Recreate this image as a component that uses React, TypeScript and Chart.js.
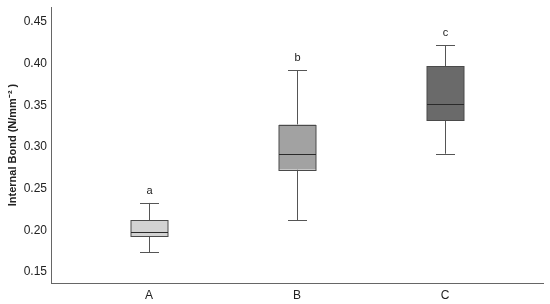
import React, { useEffect, useRef } from "react";
import { Chart, registerables } from "chart.js";

Chart.register(...registerables);

const categories = ["A", "B", "C"];
const whiskerLow = [0.174, 0.212, 0.292];
const q1 = [0.193, 0.273, 0.332];
const median = [0.198, 0.292, 0.352];
const q3 = [0.212, 0.327, 0.397];
const whiskerHigh = [0.233, 0.392, 0.422];
const letters = ["a", "b", "c"];
const fills = ["#d2d2d2", "#a2a2a2", "#6a6a6a"];
const yTicks = [0.15, 0.2, 0.25, 0.3, 0.35, 0.4, 0.45];

const boxPlugin = {
  id: "boxplot",
  afterDatasetsDraw(chart: any) {
    const ctx = chart.ctx;
    const xs = chart.scales.x;
    const ys = chart.scales.y;
    const halfBox = 18.5;
    const halfCap = 9.5;
    ctx.save();
    categories.forEach((_, i) => {
      const cx = Math.round(xs.getPixelForValue(i + 1)) + 0.5;
      const yLo = ys.getPixelForValue(whiskerLow[i]);
      const yQ1 = ys.getPixelForValue(q1[i]);
      const yMed = ys.getPixelForValue(median[i]);
      const yQ3 = ys.getPixelForValue(q3[i]);
      const yHi = ys.getPixelForValue(whiskerHigh[i]);
      ctx.strokeStyle = "#555";
      ctx.lineWidth = 1;
      ctx.beginPath();
      ctx.moveTo(cx, yHi);
      ctx.lineTo(cx, yQ3);
      ctx.moveTo(cx, yQ1);
      ctx.lineTo(cx, yLo);
      ctx.moveTo(cx - halfCap, Math.round(yHi) + 0.5);
      ctx.lineTo(cx + halfCap, Math.round(yHi) + 0.5);
      ctx.moveTo(cx - halfCap, Math.round(yLo) + 0.5);
      ctx.lineTo(cx + halfCap, Math.round(yLo) + 0.5);
      ctx.stroke();
      ctx.fillStyle = fills[i];
      ctx.fillRect(cx - halfBox, yQ3, halfBox * 2, yQ1 - yQ3);
      ctx.strokeStyle = "#4a4a4a";
      ctx.strokeRect(cx - halfBox, Math.round(yQ3) + 0.5, halfBox * 2, Math.round(yQ1 - yQ3));
      ctx.strokeStyle = "#2a2a2a";
      ctx.beginPath();
      ctx.moveTo(cx - halfBox, Math.round(yMed) + 0.5);
      ctx.lineTo(cx + halfBox, Math.round(yMed) + 0.5);
      ctx.stroke();
      ctx.fillStyle = "#222";
      ctx.font = "11px 'Liberation Sans', Arial, sans-serif";
      ctx.textAlign = "center";
      ctx.textBaseline = "middle";
      ctx.fillText(letters[i], cx, yHi - 12);
    });
    ctx.restore();
  },
};

export default function App() {
  const ref = useRef<HTMLCanvasElement>(null);
  useEffect(() => {
    if (!ref.current) return;
    const chart = new Chart(ref.current, {
      type: "scatter",
      data: {
        datasets: [
          {
            data: categories.map((_, i) => ({ x: i + 1, y: median[i] })),
            pointRadius: 0,
            showLine: false,
          },
        ],
      },
      options: {
        animation: false,
        responsive: false,
        maintainAspectRatio: false,
        events: [],
        layout: { padding: { left: 0, right: 7, top: 7, bottom: 0 } },
        plugins: { legend: { display: false }, tooltip: { enabled: false } },
        scales: {
          x: {
            type: "linear",
            min: 0.338,
            max: 3.662,
            grid: { display: false, drawTicks: false },
            border: { display: true, color: "#666", width: 1 },
            afterBuildTicks: (s: any) => {
              s.ticks = categories.map((_, i) => ({ value: i + 1 }));
            },
            afterFit: (s: any) => {
              s.height = 21;
              s.paddingLeft = 0;
              s.paddingRight = 0;
            },
            ticks: {
              autoSkip: false,
              maxRotation: 0,
              padding: 5,
              color: "#222",
              font: { family: "'Liberation Sans', Arial, sans-serif", size: 12 },
              callback: (v: any) => categories[Math.round(v) - 1] ?? "",
            },
          },
          y: {
            type: "linear",
            min: 0.137,
            max: 0.468,
            grid: { display: false, drawTicks: false },
            border: { display: true, color: "#666", width: 1 },
            afterBuildTicks: (s: any) => {
              s.ticks = yTicks.map((v) => ({ value: v }));
            },
            afterFit: (s: any) => {
              s.width = 51;
              s.paddingTop = 0;
              s.paddingBottom = 0;
            },
            title: {
              display: true,
              text: "Internal Bond (N/mm⁻² )",
              color: "#222",
              font: { family: "'Liberation Sans', Arial, sans-serif", size: 11, weight: "bold" },
              padding: { top: 6, bottom: 0 },
            },
            ticks: {
              padding: 4,
              color: "#222",
              font: { family: "'Liberation Sans', Arial, sans-serif", size: 12 },
              callback: (v: any) => Number(v).toFixed(2),
            },
          },
        },
      },
      plugins: [boxPlugin],
    });
    return () => chart.destroy();
  }, []);
  return (
    <div style={{ position: "fixed", left: 0, top: 0, width: 550, height: 304, background: "#fff" }}>
      <canvas ref={ref} width={550} height={304} />
    </div>
  );
}
